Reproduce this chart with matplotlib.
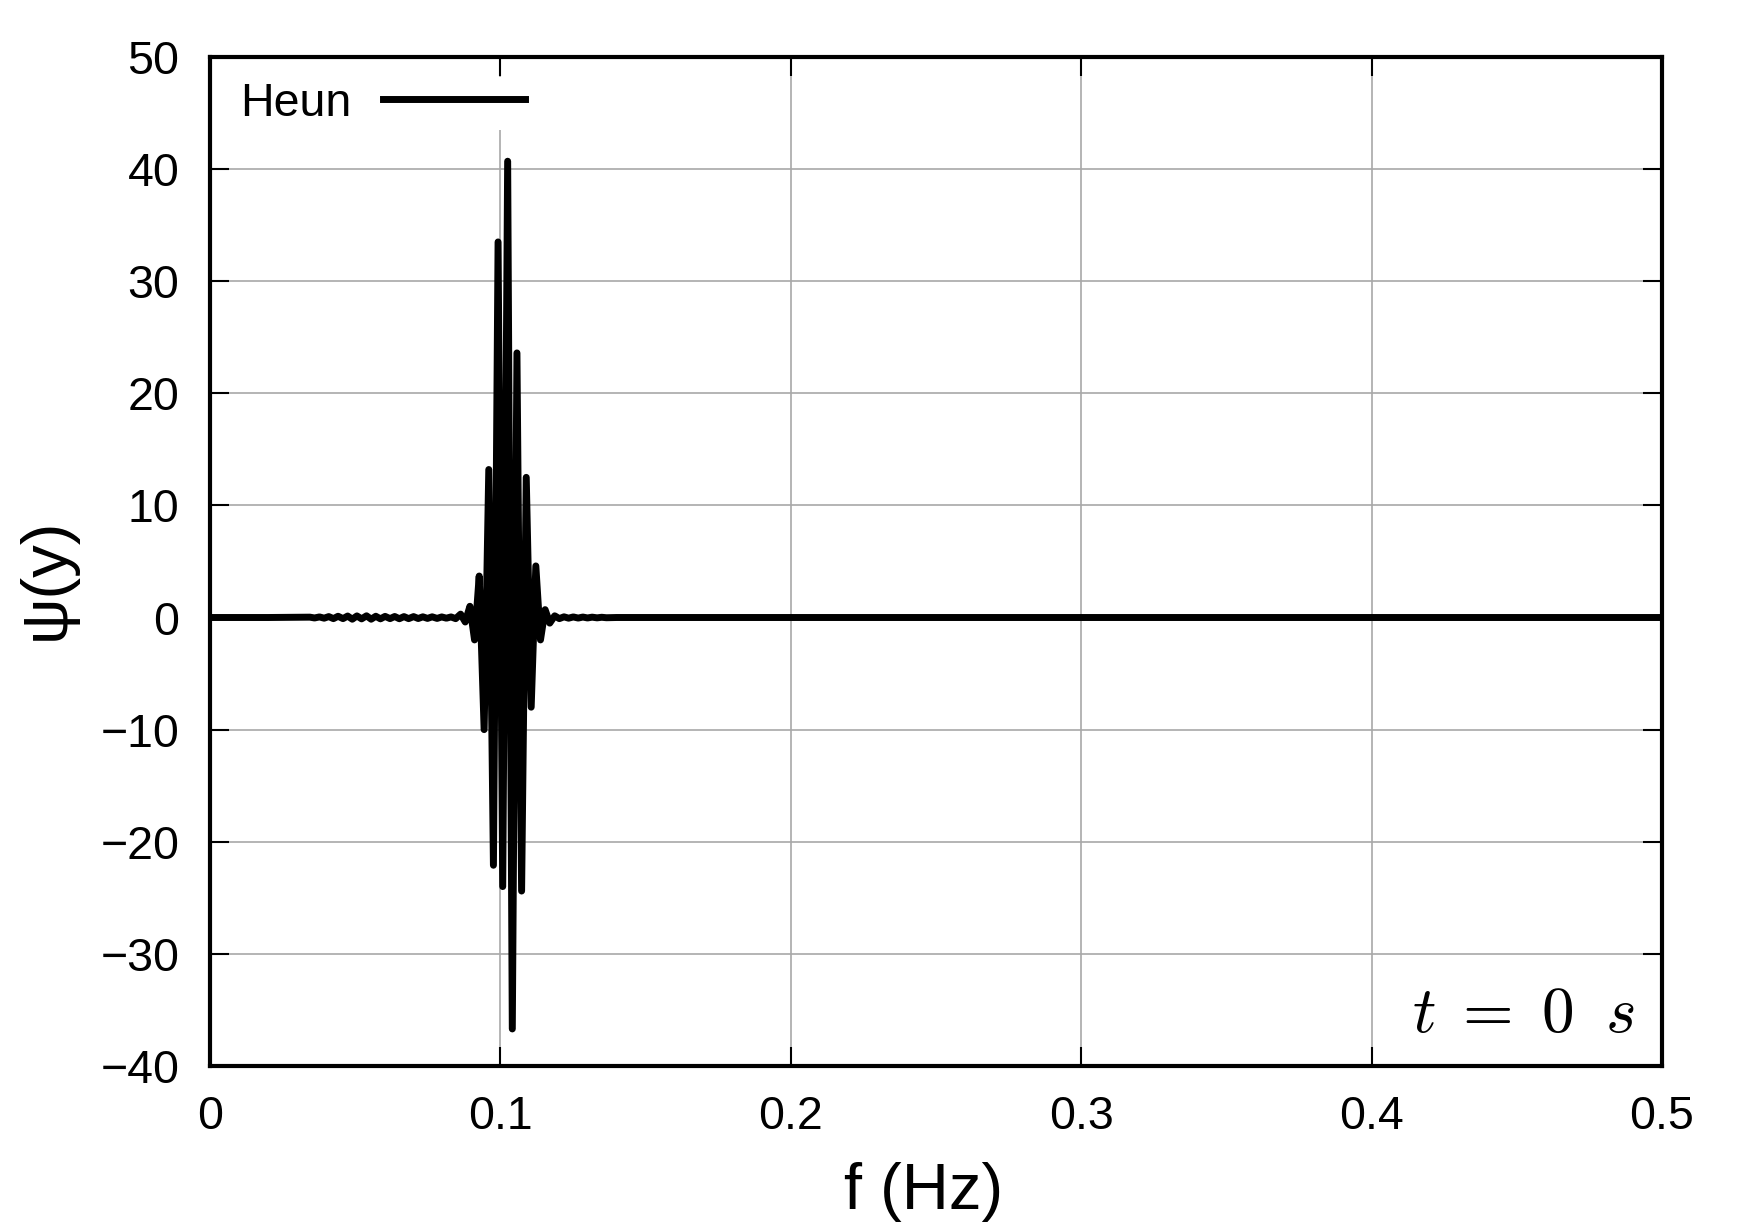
import matplotlib
matplotlib.use("Agg")
import matplotlib.pyplot as plt
import numpy as np

plt.rcParams['font.family'] = ['Liberation Sans', 'DejaVu Sans']
plt.rcParams['mathtext.fontset'] = 'cm'

# ---- data ----
# leading flat part
freq_start = [0.0, 0.0200]
psi_start = [0.0, 0.0]

# small ripples before the burst
freq_pre = [0.0344, 0.0360, 0.0377, 0.0393, 0.0409, 0.0425, 0.0441, 0.0458,
            0.0474, 0.0490, 0.0506, 0.0522, 0.0539, 0.0555, 0.0571, 0.0587,
            0.0603, 0.0620, 0.0636, 0.0652, 0.0668, 0.0684, 0.0701, 0.0717,
            0.0733, 0.0749, 0.0765, 0.0782, 0.0798, 0.0814, 0.0830, 0.0846,
            0.0863, 0.0879]
psi_pre = [0.03, -0.04, 0.05, -0.06, 0.08, -0.10, 0.11, -0.10,
           0.13, -0.15, 0.14, -0.12, 0.15, -0.15, 0.11, -0.12,
           0.10, -0.10, 0.09, -0.11, 0.08, -0.10, 0.08, -0.09,
           0.06, -0.08, 0.06, -0.08, 0.05, -0.06, 0.05, -0.10,
           0.30, -0.40]

# main burst
freq_burst = [0.0895, 0.0911, 0.0927, 0.0944, 0.0960, 0.0976, 0.0992, 0.1008,
              0.1025, 0.1041, 0.1057, 0.1073, 0.1089, 0.1106, 0.1122, 0.1138,
              0.1154, 0.1170, 0.1187, 0.1203]
psi_burst = [1.0, -2.0, 3.7, -10.0, 13.2, -22.1, 33.5, -24.0,
             40.7, -36.7, 23.6, -24.4, 12.5, -8.0, 4.6, -2.0,
             0.7, -0.5, 0.15, -0.1]

# tail ripples and flat end
freq_post = [0.1219, 0.1235, 0.1251, 0.1268, 0.1284, 0.1300, 0.1316, 0.1333,
             0.1349, 0.1365, 0.1400, 0.1500, 0.1700, 0.5000]
psi_post = [0.06, -0.06, 0.05, -0.05, 0.04, -0.04, 0.03, -0.03,
            0.02, -0.02, 0.0, 0.0, 0.0, 0.0]

xticks = [0, 0.1, 0.2, 0.3, 0.4, 0.5]
xticklabels = ['0', '0.1', '0.2', '0.3', '0.4', '0.5']
yticks = [-40, -30, -20, -10, 0, 10, 20, 30, 40, 50]

freq = freq_start + freq_pre + freq_burst + freq_post
psi = psi_start + psi_pre + psi_burst + psi_post

# ---- figure ----
fig = plt.figure(figsize=(17.5, 12.22), dpi=100)
ax = fig.add_axes([0.12, 0.1277, 0.8297, 0.8257])

ax.plot(freq, psi, color='black', lw=5.0, label='Heun', zorder=3,
        solid_joinstyle='round')

ax.set_xlim(0, 0.5)
ax.set_ylim(-40, 50)
ax.set_xticks(xticks)
ax.set_xticklabels(xticklabels)
ax.set_yticks(yticks)

ax.grid(True, color='#a8a8a8', lw=1.2, zorder=0)
ax.set_axisbelow(True)

for s in ax.spines.values():
    s.set_linewidth(3.0)
    s.set_zorder(4)

ax.tick_params(axis='both', which='major', direction='in', length=14,
               width=1.5, top=True, right=True, labelsize=33.5, colors='black')
ax.tick_params(axis='x', pad=21)
ax.tick_params(axis='y', pad=22)

ax.set_xlabel('f (Hz)', fontsize=47)
ax.set_ylabel('ψ(y)', fontsize=47)
ax.xaxis.set_label_coords(0.4917, -0.0955)
ax.yaxis.set_label_coords(-0.092, 0.483)

leg = ax.legend(loc='upper left', bbox_to_anchor=(0.0174, 0.980),
                borderaxespad=0, borderpad=0.1, fontsize=33.5,
                markerfirst=False, handlelength=3.05, handletextpad=0.68,
                frameon=True, fancybox=False, framealpha=1.0)
leg.get_frame().set_edgecolor('none')
leg.get_frame().set_facecolor('white')
leg.set_zorder(3.5)

ax.text(0.9814, 0.0337, r'$t\;=\;0\;\;s$', transform=ax.transAxes,
        ha='right', va='baseline', fontsize=47, zorder=5)

fig.savefig('out.png', dpi=100)
